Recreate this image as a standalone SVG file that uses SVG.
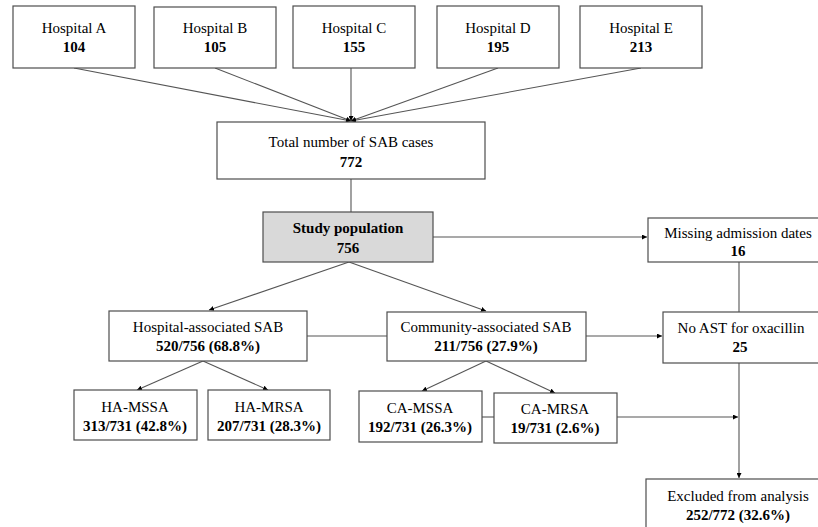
<svg xmlns="http://www.w3.org/2000/svg" width="818" height="527" viewBox="0 0 818 527">
<defs>
<marker id="ah" viewBox="0 0 10 10" refX="10" refY="5" markerWidth="5" markerHeight="5" orient="auto" markerUnits="userSpaceOnUse">
<path d="M0,0 L10,5 L0,10 z" fill="#000"/>
</marker>
<style>
.box{fill:#fff;stroke:#4d4d4d;stroke-width:1.2}
.grey{fill:#d9d9d9}
text{font-family:"Liberation Serif","Times New Roman",serif;font-size:15px;fill:#000;text-anchor:middle}
.b{font-weight:bold}
.c line{stroke:#555;stroke-width:1.1}
.a{marker-end:url(#ah)}
</style>
</defs>
<rect width="818" height="527" fill="#fff"/>
<g class="c" id="connectors">
<line x1="74" y1="68" x2="351" y2="121" class="a"/>
<line x1="215" y1="68" x2="351" y2="121" class="a"/>
<line x1="351" y1="68" x2="351" y2="121" class="a"/>
<line x1="498" y1="68" x2="351" y2="121" class="a"/>
<line x1="641" y1="68" x2="351" y2="121" class="a"/>
<line x1="351" y1="179" x2="351" y2="212"/>
<line x1="433" y1="237" x2="647" y2="237" class="a"/>
<line x1="349" y1="262" x2="209" y2="310" class="a"/>
<line x1="349" y1="262" x2="486" y2="311" class="a"/>
<line x1="307" y1="336" x2="387" y2="336"/>
<line x1="586" y1="336" x2="662" y2="336" class="a"/>
<line x1="739" y1="262" x2="739" y2="312"/>
<line x1="739" y1="363" x2="739" y2="478" class="a"/>
<line x1="203" y1="361" x2="137" y2="390" class="a"/>
<line x1="203" y1="361" x2="268" y2="390" class="a"/>
<line x1="486" y1="361" x2="422" y2="391" class="a"/>
<line x1="486" y1="361" x2="555" y2="393" class="a"/>
<line x1="482" y1="417" x2="494" y2="417"/>
<line x1="617" y1="417" x2="738" y2="417" class="a"/>
</g>
<g id="hospA"><rect class="box" x="13" y="6" width="122" height="62"/><text x="74" y="33">Hospital A</text><text class="b" x="74" y="52">104</text></g>
<g id="hospB"><rect class="box" x="154" y="7" width="122" height="61"/><text x="215" y="33">Hospital B</text><text class="b" x="215" y="52">105</text></g>
<g id="hospC"><rect class="box" x="293" y="6" width="122" height="62"/><text x="354" y="33">Hospital C</text><text class="b" x="354" y="52">155</text></g>
<g id="hospD"><rect class="box" x="437" y="6" width="122" height="62"/><text x="498" y="33">Hospital D</text><text class="b" x="498" y="52">195</text></g>
<g id="hospE"><rect class="box" x="580" y="6" width="122" height="62"/><text x="641" y="33">Hospital E</text><text class="b" x="641" y="52">213</text></g>
<g id="total"><rect class="box" x="217" y="122" width="268" height="57"/><text x="351" y="147">Total number of SAB cases</text><text class="b" x="351" y="167">772</text></g>
<g id="study"><rect class="box grey" x="263" y="212" width="170" height="50"/><text class="b" x="348" y="233">Study population</text><text class="b" x="348" y="253">756</text></g>
<g id="missing"><rect class="box" x="648" y="218" width="180" height="44"/><text x="738" y="238">Missing admission dates</text><text class="b" x="738" y="256">16</text></g>
<g id="noast"><rect class="box" x="663" y="312" width="160" height="51"/><text x="741" y="333">No AST for oxacillin</text><text class="b" x="740" y="352">25</text></g>
<g id="hasab"><rect class="box" x="109" y="311" width="198" height="50"/><text x="208" y="332">Hospital-associated SAB</text><text class="b" x="208" y="351">520/756 (68.8%)</text></g>
<g id="casab"><rect class="box" x="387" y="312" width="199" height="49"/><text x="486" y="332">Community-associated SAB</text><text class="b" x="486" y="351">211/756 (27.9%)</text></g>
<g id="hamssa"><rect class="box" x="74" y="390" width="123" height="50"/><text x="135" y="412">HA-MSSA</text><text class="b" x="135" y="431">313/731 (42.8%)</text></g>
<g id="hamrsa"><rect class="box" x="208" y="390" width="122" height="50"/><text x="269" y="412">HA-MRSA</text><text class="b" x="269" y="431">207/731 (28.3%)</text></g>
<g id="camssa"><rect class="box" x="359" y="391" width="123" height="51"/><text x="420" y="413">CA-MSSA</text><text class="b" x="420" y="432">192/731 (26.3%)</text></g>
<g id="camrsa"><rect class="box" x="494" y="393" width="123" height="50"/><text x="555" y="414">CA-MRSA</text><text class="b" x="555" y="433">19/731 (2.6%)</text></g>
<g id="excluded"><rect class="box" x="646" y="479" width="184" height="60"/><text x="738" y="501">Excluded from analysis</text><text class="b" x="738" y="520">252/772 (32.6%)</text></g>
</svg>
